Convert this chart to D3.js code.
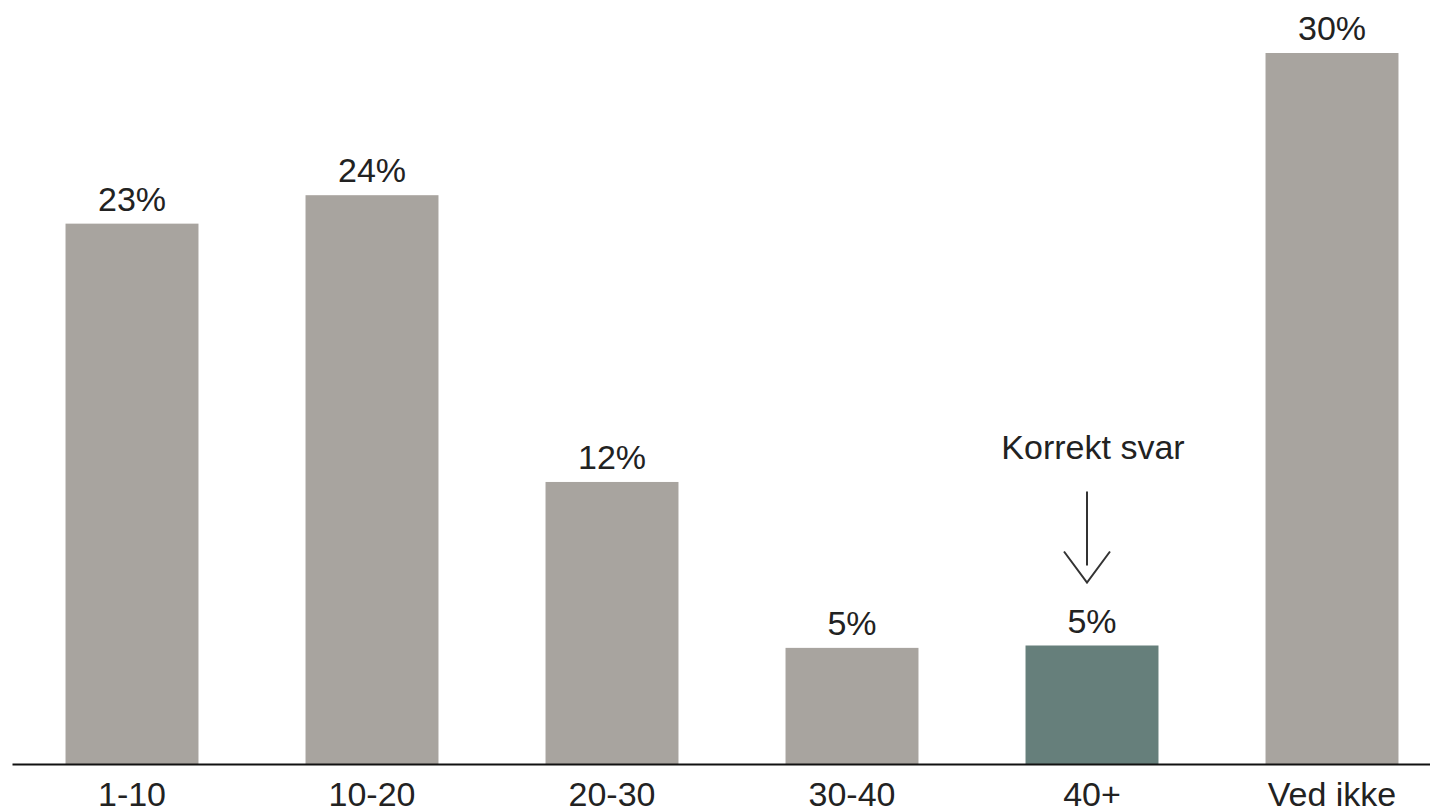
<!DOCTYPE html>
<html>
<head>
<meta charset="utf-8">
<script src="https://cdn.jsdelivr.net/npm/d3@7"></script>
<style>
  html, body { margin: 0; padding: 0; background: #fff; }
  text { font-family: "Liberation Sans", Arial, sans-serif; fill: #222; }
</style>
</head>
<body>
<div id="chart"></div>
<script>
const categories = ["1-10", "10-20", "20-30", "30-40", "40+", "Ved ikke"];
const values = [22.8, 24.0, 11.9, 4.9, 5.0, 30.0];
const correctAnswer = "40+";
const annotationText = "Korrekt svar";

const width = 1430, height = 811;
const baseY = 764;

const svg = d3.select("#chart").append("svg")
    .attr("width", width)
    .attr("height", height);

const x = d3.scaleBand()
    .domain(categories)
    .range([12, 1452])
    .paddingInner(0.446)
    .paddingOuter(0.223);

const y = d3.scaleLinear()
    .domain([0, 30])
    .range([baseY, 53]);

const data = categories.map((c, i) => ({ cat: c, value: values[i] }));

// bars
svg.selectAll(".bar")
    .data(data)
    .enter().append("rect")
    .attr("class", "bar")
    .attr("x", d => x(d.cat))
    .attr("y", d => y(d.value))
    .attr("width", x.bandwidth())
    .attr("height", d => baseY - y(d.value))
    .style("fill", d => d.cat === correctAnswer ? "#667f7b" : "#a8a49f");

// value labels
svg.selectAll(".val")
    .data(data)
    .enter().append("text")
    .attr("class", "val")
    .attr("x", d => x(d.cat) + x.bandwidth() / 2)
    .attr("y", d => y(d.value) - 13)
    .attr("text-anchor", "middle")
    .style("font-size", "34px")
    .text(d => Math.round(d.value) + "%");

// x axis
const axis = svg.append("g")
    .attr("transform", `translate(0,${baseY})`)
    .call(d3.axisBottom(x).tickSize(0).tickPadding(18));

axis.select(".domain")
    .attr("stroke", "#111")
    .attr("stroke-width", 2);

axis.selectAll(".tick text")
    .style("font-size", "34px")
    .style("font-family", "'Liberation Sans', Arial, sans-serif")
    .attr("fill", "#222");

// annotation for correct answer
const cx = x(correctAnswer) + x.bandwidth() / 2 - 5;
const barTop = y(values[categories.indexOf(correctAnswer)]);

svg.append("text")
    .attr("x", cx + 6)
    .attr("y", barTop - 187)
    .attr("text-anchor", "middle")
    .style("font-size", "34px")
    .text(annotationText);

svg.append("line")
    .attr("x1", cx).attr("x2", cx)
    .attr("y1", barTop - 154).attr("y2", barTop - 80)
    .attr("stroke", "#333")
    .attr("stroke-width", 2);

svg.append("path")
    .attr("d", `M${cx - 23},${barTop - 94} L${cx},${barTop - 63} L${cx + 23},${barTop - 94}`)
    .attr("fill", "none")
    .attr("stroke", "#333")
    .attr("stroke-width", 2);
</script>
</body>
</html>
